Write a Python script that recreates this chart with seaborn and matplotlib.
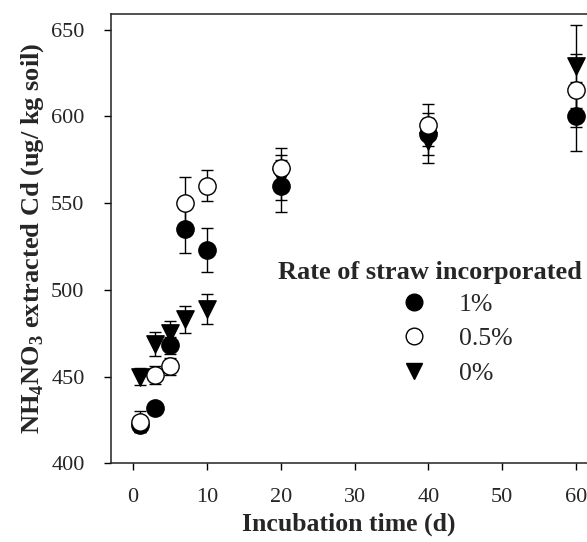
import numpy as np
import pandas as pd
import matplotlib
matplotlib.use('Agg')
import matplotlib.pyplot as plt
import seaborn as sns
from matplotlib.lines import Line2D

days = [1, 3, 5, 7, 10, 20, 40, 60]
rates = ['1%', '0.5%', '0%']
cd_1 = [422, 432, 468, 535, 523, 560, 590, 600]
sd_1 = [4, 3, 5, 14, 12.5, 15, 12, 20]
cd_05 = [424, 451, 456, 550, 560, 570, 595, 615]
sd_05 = [6, 5, 5, 15, 9, 12, 12, 21]
cd_0 = [450, 469, 475, 483, 489, 565, 586, 629]
sd_0 = [5, 7, 7, 8, 8.5, 13, 13, 24]

df = pd.concat([
    pd.DataFrame({'day': days, 'cd': cd_1, 'sd': sd_1, 'rate': '1%'}),
    pd.DataFrame({'day': days, 'cd': cd_05, 'sd': sd_05, 'rate': '0.5%'}),
    pd.DataFrame({'day': days, 'cd': cd_0, 'sd': sd_0, 'rate': '0%'}),
], ignore_index = True)

sns.set_style('ticks')
plt.rcParams['font.family'] = ['Liberation Serif', 'DejaVu Serif']
plt.rcParams['mathtext.fontset'] = 'custom'
plt.rcParams['mathtext.rm'] = 'Liberation Serif'
plt.rcParams['mathtext.bf'] = 'Liberation Serif:bold'

fig = plt.figure(figsize = (5.87, 5.42), dpi = 100)
ax = fig.add_axes([0.189, 0.145, 0.811, 0.829])

face = {'1%': 'black', '0.5%': 'white', '0%': 'black'}
mk = {'1%': 'o', '0.5%': 'o', '0%': 'v'}
order = ['0%', '1%', '0.5%']
for i, r in enumerate(order):
    d = df[df.rate == r]
    ax.errorbar(d['day'], d['cd'], yerr = d['sd'], fmt = 'none', ecolor = 'black',
                elinewidth = 1, capsize = 4.5, capthick = 1, zorder = 2 + 2 * i)
    sns.scatterplot(data = d, x = 'day', y = 'cd', marker = mk[r], color = face[r],
                    edgecolor = 'black', linewidth = 1, s = 155, ax = ax, zorder = 3 + 2 * i, legend = False)

ax.set_xlim(-3, 61.5)
ax.set_ylim(400, 659)
ax.set_xticks([0, 10, 20, 30, 40, 50, 60])
ax.set_yticks([400, 450, 500, 550, 600, 650])
ax.tick_params(direction = 'out', length = 5, width = 1, labelsize = 16, color = 'black')
ax.tick_params(axis = 'x', pad = 13)
ax.tick_params(axis = 'y', pad = 14)
for s in ['left', 'bottom', 'top']:
    ax.spines[s].set_linewidth(1.1)
    ax.spines[s].set_color('#222222')
ax.spines['right'].set_visible(False)

ax.set_xlabel('Incubation time (d)', fontsize = 18.5, fontweight = 'bold', labelpad = 4)
ax.set_ylabel(r'NH$_\mathbf{4}$NO$_\mathbf{3}$ extracted Cd (ug/ kg soil)', fontsize = 19,
              fontweight = 'bold', labelpad = 4)

# legend title placed on its own, entries below it
fig.text(430 / 587, 1 - 273 / 542, 'Rate of straw incorporated', ha = 'center', va = 'center',
         fontsize = 19, fontweight = 'bold')
handles = [Line2D([], [], linestyle = 'none', marker = mk[r], markersize = 12,
                  markerfacecolor = face[r], markeredgecolor = 'black', markeredgewidth = 1) for r in rates]
leg = ax.legend(handles, rates, loc = 'upper left', bbox_to_anchor = (388 / 587, 1 - 293 / 542),
                bbox_transform = fig.transFigure, frameon = False, fontsize = 18.5,
                handletextpad = 0.75, handlelength = 2.0, labelspacing = 0.44,
                borderpad = 0, borderaxespad = 0)

plt.savefig('out.png', dpi = 100)
